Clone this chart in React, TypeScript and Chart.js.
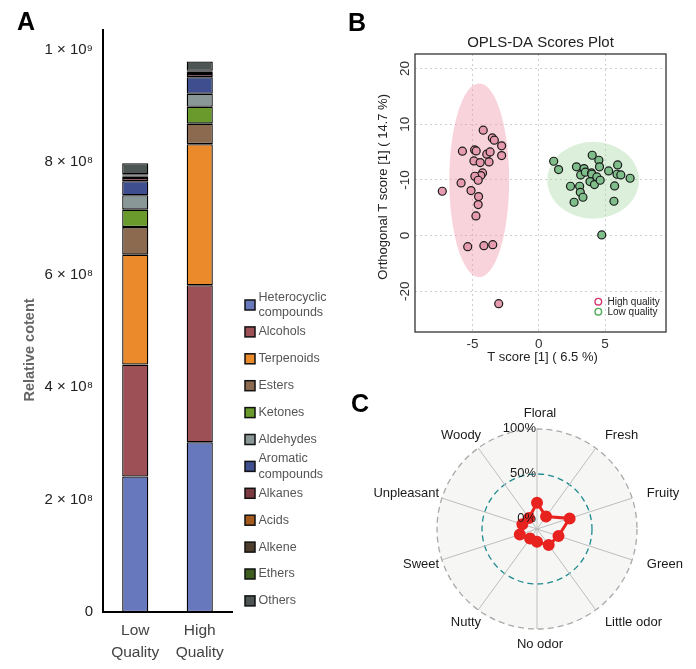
import React, { useEffect, useRef } from "react";
import { Chart, registerables } from "chart.js";

Chart.register(...registerables);

const FONT = '"Liberation Sans", Arial, Helvetica, sans-serif';
Chart.defaults.font.family = FONT;

// ---------------- Panel A data ----------------
const qualityCategories = [["Low", "Quality"], ["High", "Quality"]];
const compoundClasses = [
  "Heterocyclic compounds",
  "Alcohols",
  "Terpenoids",
  "Esters",
  "Ketones",
  "Aldehydes",
  "Aromatic compounds",
  "Alkanes",
  "Acids",
  "Alkene",
  "Ethers",
  "Others",
];
const lowQualityContent = [2.41e8, 1.99e8, 1.955e8, 4.9e7, 3.1e7, 2.55e7, 2.5e7, 5.9e6, 2.2e6, 2.2e6, 2.2e6, 1.96e7];
const highQualityContent = [3.02e8, 2.79e8, 2.51e8, 3.65e7, 3.0e7, 2.3e7, 2.94e7, 5.7e6, 2.0e6, 2.0e6, 2.0e6, 1.66e7];
const classColors = [
  "#6878BC",
  "#9E5057",
  "#EA8A2A",
  "#8C6A4F",
  "#6A9A2B",
  "#8A9797",
  "#3E4E8E",
  "#7A3A40",
  "#A35A1C",
  "#4E3D2C",
  "#3D5E1E",
  "#4C5454",
];
const contentTickValues = [0, 2e8, 4e8, 6e8, 8e8, 1e9];
const contentTickLabels = ["0", "2 × 10⁸", "4 × 10⁸", "6 × 10⁸", "8 × 10⁸", "1 × 10⁹"];
const contentAxisTitle = "Relative cotent";

// ---------------- Panel B data ----------------
const highQualityT = [-4.2, -3.51, -3.36, -2.81, -2.81, -5.77, -4.85, -4.73, -3.93, -3.68, -4.9, -4.43, -3.76, -4.25, -4.38, -4.83, -4.58, -5.87, -7.29, -5.12, -4.55, -4.58, -4.75, -5.37, -4.15, -3.48, -3.03];
const highQualityOrtho = [8.92, 7.54, 7.13, 6.11, 4.37, 5.15, 5.39, 5.21, 4.61, 5.03, 3.41, 3.11, 3.23, 1.26, 0.78, 0.66, -0.06, -0.54, -2.04, -1.92, -2.99, -4.43, -6.47, -11.98, -11.8, -11.62, -22.22];
const lowQualityT = [1.12, 1.49, 2.84, 3.41, 3.16, 3.51, 4.03, 4.53, 4.58, 3.98, 4.0, 4.38, 3.86, 4.2, 4.63, 5.27, 5.95, 5.9, 6.19, 6.89, 2.39, 3.08, 3.13, 3.33, 2.66, 5.72, 5.67, 4.75];
const lowQualityOrtho = [3.35, 1.86, 2.34, 2.04, 0.9, 1.38, 4.43, 3.53, 2.34, 1.26, 1.02, 0.54, -0.3, -0.84, -0.06, 1.62, 2.69, 1.02, 0.9, 0.3, -1.14, -1.14, -2.22, -3.11, -4.01, -1.08, -3.83, -9.88];
// confidence ellipses: [centre T, centre ortho, half-width, half-height]
const highQualityEllipse = [-4.5, -0.06, 2.26, 17.37];
const lowQualityEllipse = [4.1, -0.06, 3.46, 6.89];
const groupNames = ["High quality", "Low quality"];
const tScoreTicks = [-5, 0, 5];
const tScoreTickLabels = ["-5", "0", "5"];
const orthoTicks = [20, 10, 0, -10, -20];
const orthoTickLabels = ["20", "10", "-10", "0", "-20"];
const scoresTitle = "OPLS-DA Scores Plot";
const tScoreTitle = "T score [1] ( 6.5 %)";
const orthoTitle = "Orthogonal T score [1] ( 14.7 %)";

// ---------------- Panel C data ----------------
const odorAttributes = ["Floral", "Fresh", "Fruity", "Green", "Little odor", "No odor", "Nutty", "Sweet", "Unpleasant", "Woody"];
const odorScores = [0.18, 0.06, 0.27, 0.14, 0.11, 0.03, 0.02, 0.09, 0.06, 0.04];
const radarTicks = [0, 0.5, 1];
const radarTickLabels = ["0%", "50%", "100%"];

// ---------------- Plugins ----------------
const panelAPlugin = {
  id: "panelA",
  afterDraw(chart: any) {
    const { ctx, chartArea } = chart;
    ctx.save();
    ctx.translate(chartArea.left - 73, (chartArea.top + chartArea.bottom) / 2 + 29);
    ctx.rotate(-Math.PI / 2);
    ctx.font = `bold 14.5px ${FONT}`;
    ctx.fillStyle = "#666";
    ctx.textAlign = "center";
    ctx.textBaseline = "middle";
    ctx.fillText(contentAxisTitle, 0, 0);
    ctx.restore();

    ctx.save();
    const bx = chartArea.right + 13;
    const y0 = 305;
    const step = 26.9;
    ctx.font = `12.5px ${FONT}`;
    ctx.textBaseline = "middle";
    ctx.textAlign = "left";
    chart.data.datasets.forEach((ds: any, i: number) => {
      const cy = y0 + i * step;
      ctx.fillStyle = ds.backgroundColor;
      ctx.fillRect(bx, cy - 5, 10, 10);
      ctx.strokeStyle = "#111";
      ctx.lineWidth = 1.5;
      ctx.strokeRect(bx, cy - 5, 10, 10);
      ctx.fillStyle = "#555";
      const lines = String(ds.label).split(" ");
      if (lines.length === 1) {
        ctx.fillText(lines[0], bx + 13.5, cy);
      } else {
        ctx.fillText(lines[0], bx + 13.5, cy - 7.8);
        ctx.fillText(lines[1], bx + 13.5, cy + 7.8);
      }
    });
    ctx.restore();
  },
};

const groupLegendColors = ["#D6336B", "#4DAA55"];
const ellipseFills = ["rgba(240,150,170,0.42)", "rgba(160,212,160,0.38)"];

const panelBPlugin = {
  id: "panelB",
  beforeDatasetsDraw(chart: any) {
    const { ctx, chartArea } = chart;
    const x = chart.scales.x;
    const y = chart.scales.y;
    ctx.save();
    ctx.beginPath();
    ctx.rect(chartArea.left, chartArea.top, chartArea.right - chartArea.left, chartArea.bottom - chartArea.top);
    ctx.clip();
    [highQualityEllipse, lowQualityEllipse].forEach((e, i) => {
      const cx = x.getPixelForValue(e[0]);
      const cy = y.getPixelForValue(e[1]);
      const rx = Math.abs(x.getPixelForValue(e[0] + e[2]) - cx);
      const ry = Math.abs(y.getPixelForValue(e[1] + e[3]) - cy);
      ctx.beginPath();
      ctx.ellipse(cx, cy, rx, ry, 0, 0, Math.PI * 2);
      ctx.fillStyle = ellipseFills[i];
      ctx.fill();
    });
    ctx.restore();
  },
  afterDraw(chart: any) {
    const { ctx, chartArea } = chart;
    const y = chart.scales.y;
    ctx.save();
    ctx.strokeStyle = "#333";
    ctx.lineWidth = 1.3;
    ctx.strokeRect(chartArea.left, chartArea.top, chartArea.right - chartArea.left, chartArea.bottom - chartArea.top);
    ctx.font = `13.5px ${FONT}`;
    ctx.fillStyle = "#333";
    ctx.textAlign = "center";
    ctx.textBaseline = "middle";
    orthoTicks.forEach((v, i) => {
      const py = y.getPixelForValue(v);
      ctx.save();
      ctx.translate(chartArea.left - 10, py);
      ctx.rotate(-Math.PI / 2);
      ctx.fillText(orthoTickLabels[i], 0, 0);
      ctx.restore();
    });
    ctx.font = `13px ${FONT}`;
    ctx.fillStyle = "#222";
    ctx.fillText(tScoreTitle, (chartArea.left + chartArea.right) / 2 + 2, chartArea.bottom + 25);
    ctx.save();
    ctx.translate(chartArea.left - 31.5, chartArea.top + (chartArea.bottom - chartArea.top) * 0.478);
    ctx.rotate(-Math.PI / 2);
    ctx.fillText(orthoTitle, 0, 0);
    ctx.restore();
    ctx.font = `10px ${FONT}`;
    ctx.textAlign = "left";
    groupNames.forEach((name, i) => {
      const ly = chartArea.bottom - 30.3 + i * 10;
      ctx.beginPath();
      ctx.arc(chartArea.right - 67.7, ly, 3.3, 0, Math.PI * 2);
      ctx.strokeStyle = groupLegendColors[i];
      ctx.lineWidth = 1.4;
      ctx.stroke();
      ctx.fillStyle = "#222";
      ctx.fillText(name, chartArea.right - 58.5, ly + 0.5);
    });
    ctx.restore();
  },
};

const panelCPlugin = {
  id: "panelC",
  beforeDraw(chart: any) {
    const r = chart.scales.r;
    const { ctx } = chart;
    ctx.save();
    ctx.beginPath();
    ctx.arc(r.xCenter, r.yCenter, r.drawingArea, 0, Math.PI * 2);
    ctx.fillStyle = "#F6F6F5";
    ctx.fill();
    ctx.restore();
  },
  afterDraw(chart: any) {
    const r = chart.scales.r;
    const { ctx } = chart;
    const R = r.drawingArea;
    ctx.save();
    ctx.font = `13px ${FONT}`;
    ctx.fillStyle = "#1a1a1a";
    ctx.textBaseline = "middle";
    odorAttributes.forEach((label, i) => {
      const p = r.getPointPosition(i, R * 1.155);
      const dx = p.x - r.xCenter;
      let shift = 0;
      if (dx > 5) {
        ctx.textAlign = "left";
      } else if (dx < -5) {
        ctx.textAlign = "right";
        shift = 12;
      } else {
        ctx.textAlign = "center";
        shift = 3;
      }
      ctx.fillText(label, p.x + shift, p.y);
    });
    ctx.textAlign = "right";
    radarTicks.forEach((v, i) => {
      const d = r.getDistanceFromCenterForValue(v);
      ctx.fillText(radarTickLabels[i], r.xCenter - 1, r.yCenter - d - 1);
    });
    ctx.restore();
  },
};

// ---------------- Component ----------------
export default function App() {
  const refA = useRef<HTMLCanvasElement>(null);
  const refB = useRef<HTMLCanvasElement>(null);
  const refC = useRef<HTMLCanvasElement>(null);

  useEffect(() => {
    const charts: Chart[] = [];

    const datasetsA = compoundClasses.map((name, i) => ({
      label: name,
      data: [lowQualityContent[i], highQualityContent[i]],
      backgroundColor: classColors[i],
      borderColor: "#000",
      borderWidth: 1.3,
      borderSkipped: false,
      categoryPercentage: 1,
      barPercentage: 0.405,
    }));
    charts.push(
      new Chart(refA.current!, {
        type: "bar",
        data: { labels: qualityCategories as any, datasets: datasetsA as any },
        options: {
          responsive: false,
          animation: false,
          layout: { padding: { left: 23, right: 113, top: 30, bottom: 0 } },
          plugins: { legend: { display: false }, tooltip: { enabled: false } },
          scales: {
            x: {
              stacked: true,
              grid: { display: false, drawTicks: false },
              border: { display: true, color: "#000", width: 2 },
              ticks: { color: "#444", font: { family: FONT, size: 15.5, lineHeight: 1.45 }, padding: 7 },
              afterFit: (s: any) => {
                s.height = 57;
              },
            },
            y: {
              stacked: true,
              min: 0,
              max: 1.035e9,
              grid: { display: false, drawTicks: false },
              border: { display: true, color: "#000", width: 2 },
              afterBuildTicks: (s: any) => {
                s.ticks = contentTickValues.map((v) => ({ value: v }));
              },
              ticks: {
                color: "#222",
                font: { family: FONT, size: 15 },
                padding: 10,
                callback: (v: any) => contentTickLabels[contentTickValues.indexOf(Number(v))] ?? "",
              },
              afterFit: (s: any) => {
                s.width = 80;
              },
            },
          },
        } as any,
        plugins: [panelAPlugin],
      })
    );

    charts.push(
      new Chart(refB.current!, {
        type: "scatter",
        data: {
          datasets: [
            {
              label: groupNames[0],
              data: highQualityT.map((x, i) => ({ x, y: highQualityOrtho[i] })),
              pointBackgroundColor: "#E59AAF",
              pointBorderColor: "#1a1a1a",
              pointBorderWidth: 1.2,
              pointRadius: 4,
            },
            {
              label: groupNames[1],
              data: lowQualityT.map((x, i) => ({ x, y: lowQualityOrtho[i] })),
              pointBackgroundColor: "#7FBE8B",
              pointBorderColor: "#1a1a1a",
              pointBorderWidth: 1.2,
              pointRadius: 4,
            },
          ],
        },
        options: {
          responsive: false,
          animation: false,
          layout: { padding: { left: 30, right: 30, top: 33.7, bottom: 0 } },
          plugins: {
            legend: { display: false },
            tooltip: { enabled: false },
            title: {
              display: true,
              text: scoresTitle,
              fullSize: false,
              color: "#222",
              font: { family: FONT, size: 15, weight: "normal" },
              padding: { top: 0, bottom: 2.3 },
            },
          },
          scales: {
            x: {
              type: "linear",
              min: -9.35,
              max: 9.6,
              afterBuildTicks: (s: any) => {
                s.ticks = tScoreTicks.map((v) => ({ value: v }));
              },
              ticks: {
                color: "#333",
                font: { family: FONT, size: 13.5 },
                padding: 4,
                callback: (v: any) => tScoreTickLabels[tScoreTicks.indexOf(Number(v))] ?? "",
              },
              grid: { color: "#CFCFCF", lineWidth: 1, drawTicks: false },
              border: { display: false, dash: [2, 3] },
              afterFit: (s: any) => {
                s.height = 37;
              },
            },
            y: {
              type: "linear",
              min: -27.3,
              max: 22.6,
              afterBuildTicks: (s: any) => {
                s.ticks = orthoTicks.map((v) => ({ value: v }));
              },
              ticks: { display: false },
              grid: { color: "#CFCFCF", lineWidth: 1, drawTicks: false },
              border: { display: false, dash: [2, 3] },
              afterFit: (s: any) => {
                s.width = 40;
              },
            },
          },
        } as any,
        plugins: [panelBPlugin],
      })
    );

    charts.push(
      new Chart(refC.current!, {
        type: "radar",
        data: {
          labels: odorAttributes,
          datasets: [
            {
              data: odorScores,
              borderColor: "#E8231F",
              backgroundColor: "#E8231F",
              pointBackgroundColor: "#E8231F",
              pointBorderColor: "#E8231F",
              pointRadius: 4.5,
              borderWidth: 3,
              fill: false,
            },
          ],
        },
        options: {
          responsive: false,
          animation: false,
          layout: { padding: { left: 92, right: 58, top: 49, bottom: 39 } },
          plugins: { legend: { display: false }, tooltip: { enabled: false } },
          scales: {
            r: {
              min: -1 / 9,
              max: 1,
              beginAtZero: false,
              afterBuildTicks: (s: any) => {
                s.ticks = radarTicks.map((v) => ({ value: v }));
              },
              ticks: { display: false },
              pointLabels: { display: false },
              angleLines: { display: true, color: "#BEBEBE", lineWidth: 1 },
              grid: {
                circular: true,
                lineWidth: 1.3,
                color: (ctx: any) => {
                  const v = ctx.tick ? ctx.tick.value : null;
                  if (v === 1) return "#A9A9A9";
                  if (v === 0.5) return "#1E8A8F";
                  return "rgba(0,0,0,0)";
                },
              },
              border: { dash: [6, 4] },
            },
          },
        } as any,
        plugins: [panelCPlugin],
      })
    );

    return () => charts.forEach((c) => c.destroy());
  }, []);

  const letter = (text: string, left: number, top: number) => (
    <div
      style={{
        position: "absolute",
        left,
        top,
        font: `bold 25px ${FONT}`,
        lineHeight: "25px",
        color: "#000",
      }}
    >
      {text}
    </div>
  );

  return (
    <div style={{ position: "absolute", left: 0, top: 0, width: 696, height: 669, background: "#fff", overflow: "hidden" }}>
      <canvas ref={refA} width={345} height={669} style={{ position: "absolute", left: 0, top: 0, width: 345, height: 669 }} />
      <canvas ref={refB} width={351} height={369} style={{ position: "absolute", left: 345, top: 0, width: 351, height: 369 }} />
      <canvas ref={refC} width={351} height={289} style={{ position: "absolute", left: 345, top: 380, width: 351, height: 289 }} />
      {letter("A", 17, 9)}
      {letter("B", 348, 10)}
      {letter("C", 351, 391)}
    </div>
  );
}
